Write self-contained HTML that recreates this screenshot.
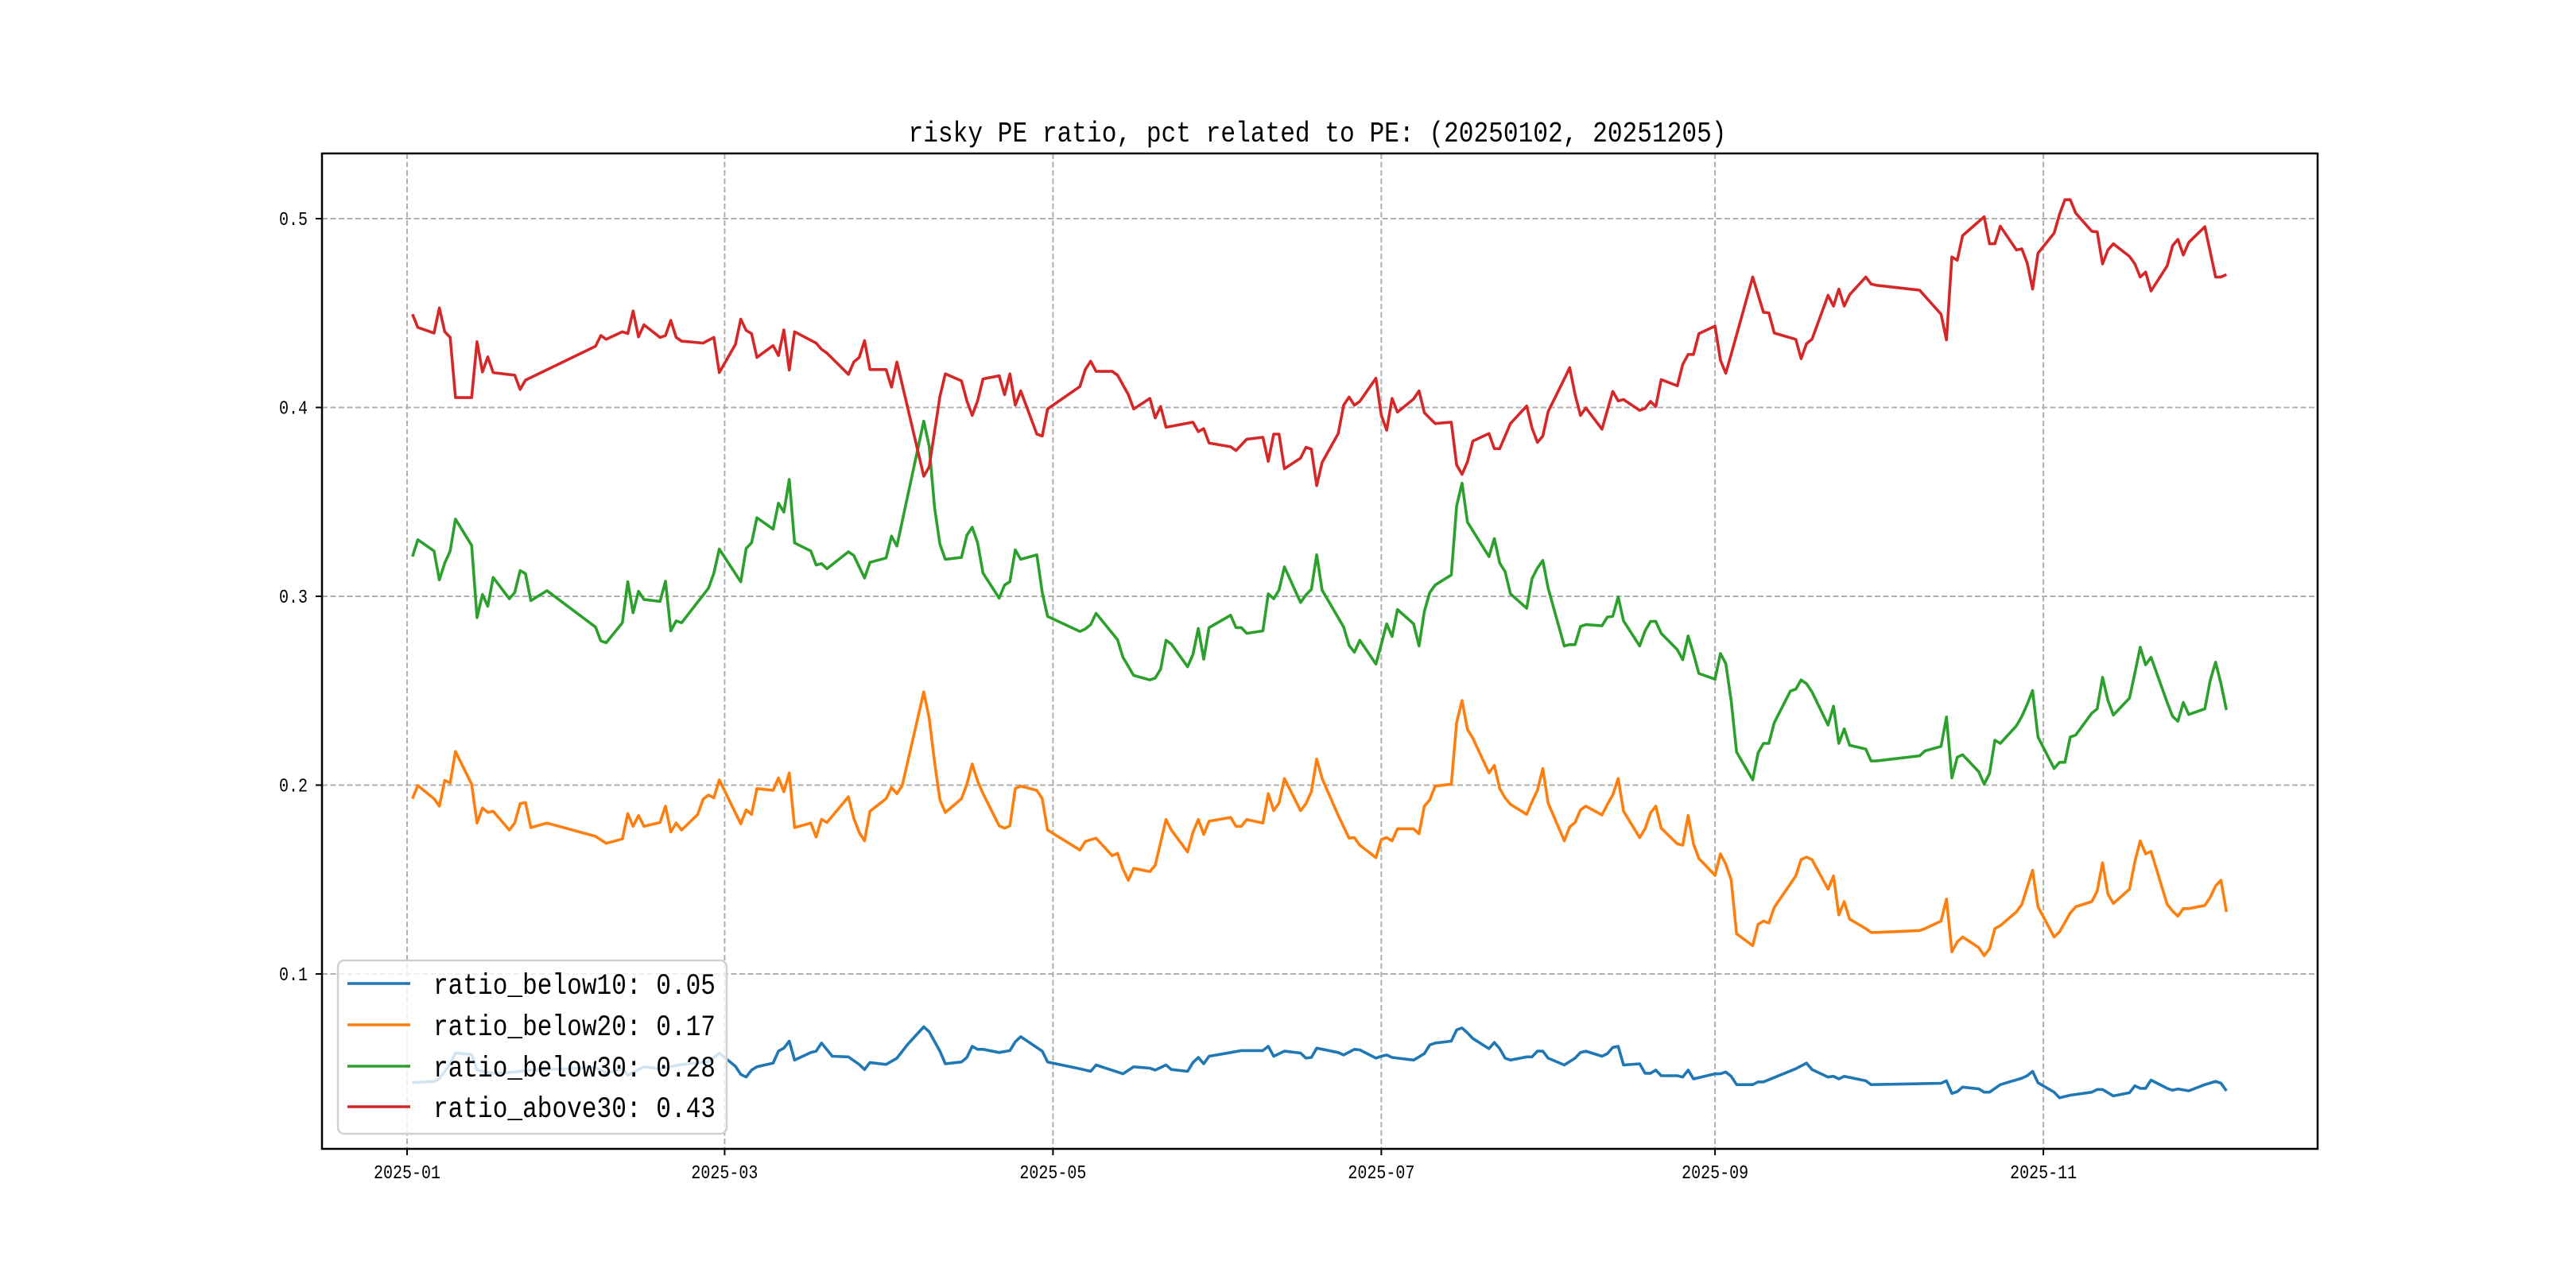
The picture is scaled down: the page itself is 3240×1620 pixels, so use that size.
<!DOCTYPE html>
<html><head><meta charset="utf-8"><style>
html,body{margin:0;padding:0;background:#fff;}
svg{display:block;}
</style></head><body>
<svg id="chart" xmlns="http://www.w3.org/2000/svg" width="3240" height="1620" viewBox="0 0 3240 1620">
<rect x="0" y="0" width="3240" height="1620" fill="#fff"/>
<text x="1657" y="178" text-anchor="middle" font-family="Liberation Mono, monospace" font-size="36" textLength="1029" lengthAdjust="spacingAndGlyphs" fill="#000">risky PE ratio, pct related to PE: (20250102, 20251205)</text>
<g id="grid"></g>
<g id="series"></g>
<rect x="405" y="193" width="2510" height="1252" fill="none" stroke="#000" stroke-width="2.5"/>
<g id="ticks"></g>
<g id="legend"></g>
</svg>
<script>
// x values are day offsets from 2025-01-01
const xTickDays = [0, 59, 120, 181, 243, 304];
const xTickLabels = ["2025-01", "2025-03", "2025-05", "2025-07", "2025-09", "2025-11"];
const yTickValues = [0.1, 0.2, 0.3, 0.4, 0.5];
const yTickLabels = ["0.1", "0.2", "0.3", "0.4", "0.5"];
const seriesNames = ["ratio_below10: 0.05", "ratio_below20: 0.17", "ratio_below30: 0.28", "ratio_above30: 0.43"];
const seriesColors = ["#1f77b4", "#ff7f0e", "#2ca02c", "#d62728"];

const blueDays = [1,5,6,8,9,12,13,16,20,23,35,37,40,41,44,47,51,56,58,61,62,63,64,65,68,69,70,71,72,75,76,77,79,82,84,85,86,89,91,93,96,97,99,100,103,104,105,106,107,110,112,113,114,118,119,125,127,128,133,135,138,139,141,142,145,146,147,148,149,153,155,159,160,161,163,166,167,168,169,173,174,176,177,180,181,182,183,187,189,190,191,194,195,196,197,198,201,202,203,204,205,208,209,210,211,212,215,217,218,219,222,223,224,225,226,229,230,231,232,233,236,237,238,239,243,244,245,246,247,250,251,252,258,260,261,264,265,266,267,271,272,285,286,287,288,289,292,293,294,296,300,301,302,303,306,307,309,313,314,315,317,320,321,322,323,324,327,328,329,331,334,336,337,338];
const blueVals = [0.0424,0.0431,0.0444,0.0524,0.0581,0.0574,0.0491,0.0474,0.0481,0.0491,0.0504,0.0474,0.0498,0.0464,0.0508,0.0498,0.0521,0.0534,0.0581,0.0511,0.0468,0.0454,0.0491,0.0508,0.0528,0.0591,0.0607,0.0644,0.0544,0.0584,0.0591,0.0634,0.0564,0.0561,0.0521,0.0494,0.0531,0.0521,0.0554,0.0627,0.0720,0.0694,0.0591,0.0524,0.0534,0.0558,0.0617,0.0601,0.0601,0.0584,0.0594,0.0641,0.0668,0.0591,0.0534,0.0498,0.0484,0.0518,0.0471,0.0508,0.0501,0.0491,0.0518,0.0494,0.0484,0.0531,0.0558,0.0524,0.0564,0.0584,0.0594,0.0594,0.0617,0.0564,0.0591,0.0581,0.0554,0.0558,0.0607,0.0584,0.0571,0.0601,0.0598,0.0554,0.0564,0.0571,0.0558,0.0544,0.0578,0.0624,0.0634,0.0644,0.0704,0.0714,0.0688,0.0658,0.0604,0.0637,0.0604,0.0554,0.0544,0.0561,0.0561,0.0591,0.0591,0.0554,0.0518,0.0554,0.0584,0.0591,0.0564,0.0578,0.0611,0.0617,0.0518,0.0524,0.0474,0.0474,0.0491,0.0461,0.0461,0.0454,0.0491,0.0444,0.0471,0.0471,0.0481,0.0458,0.0414,0.0414,0.0428,0.0428,0.0498,0.0528,0.0494,0.0454,0.0458,0.0444,0.0458,0.0434,0.0414,0.0421,0.0434,0.0367,0.0377,0.0401,0.0391,0.0374,0.0374,0.0414,0.0448,0.0461,0.0484,0.0424,0.0374,0.0344,0.0358,0.0374,0.0388,0.0388,0.0354,0.0371,0.0408,0.0394,0.0394,0.0438,0.0394,0.0384,0.0391,0.0381,0.0414,0.0431,0.0421,0.0381];

const orangeDays = [1,2,5,6,7,8,9,12,13,14,15,16,19,20,21,22,23,26,35,37,40,41,42,43,44,47,48,49,50,51,54,55,56,57,58,62,63,64,65,68,69,70,71,72,75,76,77,78,82,83,84,85,86,89,90,91,92,96,97,98,99,100,103,104,105,106,107,110,111,112,113,114,117,118,119,125,126,128,131,132,133,134,135,138,139,140,141,142,145,146,147,148,149,153,154,155,156,159,160,161,162,163,166,167,168,169,170,173,175,176,177,180,181,182,183,184,187,188,189,190,191,194,195,196,197,198,201,202,203,204,205,208,209,210,211,212,215,216,217,218,219,222,223,224,225,226,229,230,231,232,233,236,237,238,239,240,243,244,245,246,247,250,251,252,253,254,258,259,260,261,264,265,266,267,268,271,272,273,281,282,285,286,287,288,289,292,293,294,295,296,299,300,302,303,306,307,309,310,313,314,315,316,317,320,321,322,323,324,327,328,329,330,331,334,335,336,337,338];
const orangeVals = [0.1928,0.1998,0.1928,0.1889,0.2025,0.2012,0.2178,0.2005,0.1799,0.1879,0.1855,0.1862,0.1762,0.1799,0.1902,0.1908,0.1775,0.1799,0.1729,0.1692,0.1715,0.1849,0.1782,0.1839,0.1782,0.1802,0.1889,0.1752,0.1799,0.1762,0.1845,0.1925,0.1948,0.1932,0.2028,0.1795,0.1869,0.1845,0.1982,0.1972,0.2038,0.1965,0.2065,0.1775,0.1799,0.1725,0.1819,0.1802,0.1938,0.1825,0.1749,0.1705,0.1862,0.1928,0.1988,0.1955,0.1998,0.2494,0.2354,0.2121,0.1922,0.1855,0.1928,0.2005,0.2112,0.2022,0.1955,0.1785,0.1772,0.1785,0.1982,0.1995,0.1972,0.1928,0.1762,0.1656,0.1702,0.1719,0.1626,0.1639,0.1556,0.1496,0.1559,0.1542,0.1576,0.1696,0.1818,0.1762,0.1646,0.1749,0.1818,0.1739,0.1809,0.1829,0.1782,0.1782,0.1818,0.1799,0.1955,0.1865,0.1905,0.2035,0.1865,0.1902,0.1965,0.2138,0.2035,0.1839,0.1719,0.1722,0.1682,0.1616,0.1712,0.1722,0.1705,0.1769,0.1769,0.1742,0.1889,0.1922,0.1995,0.2005,0.2331,0.2448,0.2295,0.2248,0.2065,0.2105,0.1982,0.1932,0.1898,0.1845,0.1912,0.1972,0.2088,0.1905,0.1705,0.1779,0.1802,0.1869,0.1889,0.1842,0.1898,0.1948,0.2035,0.1862,0.1722,0.1769,0.1852,0.1889,0.1772,0.1689,0.1682,0.1839,0.1689,0.1612,0.1522,0.1636,0.1582,0.1499,0.1213,0.1150,0.1263,0.1280,0.1270,0.1353,0.1519,0.1606,0.1619,0.1606,0.1449,0.1519,0.1313,0.1383,0.1290,0.1240,0.1220,0.1220,0.1230,0.1240,0.1280,0.1397,0.1117,0.1170,0.1196,0.1140,0.1097,0.1133,0.1240,0.1256,0.1329,0.1369,0.1549,0.1356,0.1196,0.1223,0.1323,0.1356,0.1383,0.1439,0.1589,0.1423,0.1373,0.1449,0.1596,0.1705,0.1636,0.1649,0.1369,0.1333,0.1306,0.1346,0.1346,0.1363,0.1406,0.1466,0.1496,0.1329];

const greenDays = [1,2,5,6,7,8,9,12,13,14,15,16,19,20,21,22,23,26,35,36,37,40,41,42,43,44,47,48,49,50,51,56,57,58,62,63,64,65,68,69,70,71,72,75,76,77,78,82,83,85,86,89,90,91,96,97,98,99,100,103,104,105,106,107,110,111,112,113,114,117,118,119,125,126,127,128,132,133,135,138,139,140,141,142,145,146,147,148,149,153,154,155,156,159,160,161,162,163,166,167,168,169,170,174,175,176,177,180,181,182,183,184,187,188,189,190,191,194,195,196,197,201,202,203,204,205,208,209,210,211,212,215,216,217,218,219,222,223,224,225,226,229,230,231,232,233,236,237,238,239,240,243,244,245,246,247,250,251,252,253,254,257,258,259,260,261,264,265,266,267,268,271,272,273,281,282,285,286,287,288,289,292,293,294,295,296,299,300,301,302,303,306,307,308,309,310,313,314,315,316,317,320,321,322,323,324,327,328,329,330,331,334,335,336,337,338];
const greenVals = [0.3210,0.3300,0.3240,0.3087,0.3176,0.3240,0.3409,0.3270,0.2887,0.3010,0.2947,0.3100,0.2987,0.3020,0.3136,0.3120,0.2977,0.3030,0.2837,0.2764,0.2754,0.2860,0.3077,0.2913,0.3027,0.2983,0.2973,0.3080,0.2817,0.2870,0.2860,0.3043,0.3123,0.3250,0.3077,0.3253,0.3283,0.3416,0.3356,0.3493,0.3446,0.3619,0.3283,0.3240,0.3166,0.3173,0.3146,0.3236,0.3216,0.3097,0.3180,0.3203,0.3319,0.3266,0.3928,0.3795,0.3469,0.3276,0.3196,0.3206,0.3323,0.3366,0.3283,0.3123,0.2990,0.3060,0.3077,0.3246,0.3196,0.3220,0.3020,0.2894,0.2814,0.2827,0.2850,0.2910,0.2770,0.2677,0.2581,0.2557,0.2567,0.2614,0.2767,0.2747,0.2627,0.2691,0.2830,0.2667,0.2834,0.2900,0.2834,0.2834,0.2804,0.2817,0.3013,0.2987,0.3033,0.3156,0.2967,0.3007,0.3037,0.3220,0.3033,0.2837,0.2740,0.2704,0.2767,0.2641,0.2747,0.2854,0.2787,0.2930,0.2854,0.2737,0.2920,0.3020,0.3060,0.3113,0.3479,0.3599,0.3393,0.3210,0.3306,0.3176,0.3130,0.3013,0.2937,0.3093,0.3150,0.3190,0.3043,0.2737,0.2744,0.2744,0.2840,0.2850,0.2844,0.2890,0.2894,0.2997,0.2870,0.2737,0.2817,0.2867,0.2867,0.2804,0.2717,0.2664,0.2790,0.2697,0.2591,0.2561,0.2697,0.2644,0.2448,0.2175,0.2028,0.2171,0.2221,0.2221,0.2331,0.2498,0.2508,0.2557,0.2537,0.2494,0.2318,0.2418,0.2221,0.2298,0.2211,0.2191,0.2128,0.2128,0.2155,0.2181,0.2205,0.2361,0.2038,0.2148,0.2161,0.2071,0.2005,0.2062,0.2238,0.2221,0.2314,0.2364,0.2428,0.2501,0.2255,0.2088,0.2121,0.2121,0.2255,0.2265,0.2381,0.2404,0.2571,0.2448,0.2371,0.2461,0.2594,0.2730,0.2637,0.2677,0.2438,0.2364,0.2338,0.2438,0.2374,0.2404,0.2554,0.2651,0.2537,0.2398];

const redDays = [1,2,5,6,7,8,9,12,13,14,15,16,20,21,22,35,36,37,40,41,42,43,44,47,48,49,50,51,55,57,58,61,62,63,64,65,68,69,70,71,72,76,77,78,82,83,84,85,86,89,90,91,96,97,99,100,103,104,105,106,107,110,111,112,113,114,117,118,119,125,126,127,128,131,132,134,135,138,139,140,141,146,147,148,149,153,154,156,159,160,161,162,163,166,167,168,169,170,173,174,175,176,177,180,181,182,183,184,187,188,189,191,194,195,196,197,198,201,202,203,205,208,209,210,211,212,215,216,217,218,219,222,224,225,226,229,230,231,232,233,236,237,238,239,240,243,244,245,246,250,252,253,254,258,259,260,261,264,265,266,267,268,271,272,273,281,285,286,287,288,289,293,294,295,296,299,300,301,302,303,306,307,308,309,310,313,314,315,316,317,320,321,322,323,324,327,328,329,330,331,334,336,337,338];
const redVals = [0.4494,0.4424,0.4394,0.4527,0.4401,0.4371,0.4052,0.4052,0.4348,0.4188,0.4268,0.4185,0.4171,0.4095,0.4145,0.4324,0.4381,0.4361,0.4401,0.4391,0.4511,0.4374,0.4438,0.4371,0.4381,0.4461,0.4371,0.4351,0.4341,0.4371,0.4185,0.4334,0.4468,0.4408,0.4391,0.4265,0.4328,0.4275,0.4411,0.4198,0.4401,0.4341,0.4308,0.4288,0.4175,0.4241,0.4265,0.4354,0.4201,0.4201,0.4108,0.4241,0.3636,0.3686,0.4058,0.4178,0.4141,0.4035,0.3958,0.4035,0.4151,0.4168,0.4068,0.4178,0.4012,0.4088,0.3859,0.3849,0.3992,0.4111,0.4201,0.4245,0.4191,0.4191,0.4171,0.4068,0.3992,0.4048,0.3945,0.4005,0.3895,0.3922,0.3872,0.3888,0.3812,0.3792,0.3772,0.3832,0.3842,0.3715,0.3859,0.3859,0.3676,0.3732,0.3789,0.3779,0.3586,0.3709,0.3862,0.4012,0.4055,0.4012,0.4032,0.4155,0.3958,0.3879,0.4048,0.3975,0.4045,0.4088,0.3972,0.3915,0.3922,0.3696,0.3646,0.3712,0.3822,0.3862,0.3782,0.3782,0.3915,0.4008,0.3892,0.3815,0.3849,0.3978,0.4151,0.4211,0.4068,0.3958,0.3998,0.3885,0.4085,0.4035,0.4042,0.3985,0.3995,0.4032,0.4005,0.4148,0.4115,0.4228,0.4281,0.4281,0.4391,0.4431,0.4251,0.4181,0.4281,0.4691,0.4504,0.4501,0.4394,0.4361,0.4258,0.4338,0.4361,0.4594,0.4537,0.4627,0.4537,0.4597,0.4691,0.4654,0.4647,0.4621,0.4494,0.4358,0.4797,0.4780,0.4910,0.5010,0.4867,0.4867,0.4960,0.4834,0.4840,0.4764,0.4627,0.4817,0.4923,0.5023,0.5100,0.5100,0.5030,0.4933,0.4930,0.4760,0.4834,0.4867,0.4800,0.4760,0.4691,0.4717,0.4617,0.4750,0.4857,0.4890,0.4807,0.4874,0.4957,0.4691,0.4691,0.4704];

const NS = "http://www.w3.org/2000/svg";
const plot = {left: 405, right: 2915, top: 193, bottom: 1445};
function xScale(d) { return 512 + d * 6.77; }
function yScale(v) { return 275 + (0.5 - v) * 2375; }
function mk(tag, attrs, parent) {
  const e = document.createElementNS(NS, tag);
  for (const k in attrs) e.setAttribute(k, attrs[k]);
  parent.appendChild(e);
  return e;
}
const grid = document.getElementById('grid');
const ticks = document.getElementById('ticks');
xTickDays.forEach((d, i) => {
  const x = xScale(d);
  const g = mk('line', {x1: x, x2: x, y1: plot.top, y2: plot.bottom, stroke: '#b0b0b0', 'stroke-width': 2, 'stroke-dasharray': '7,3.5'}, grid);
  
  
  const t = mk('line', {x1: x, x2: x, y1: plot.bottom, y2: plot.bottom + 8, stroke: '#000', 'stroke-width': 2}, ticks);
  
  
  const l = mk('text', {x: x, y: 1482, 'text-anchor': 'middle', 'font-family': 'Liberation Mono, monospace', 'font-size': 24, textLength: 84, lengthAdjust: 'spacingAndGlyphs', fill: '#000'}, ticks);
  l.textContent = xTickLabels[i];
  
  
});
yTickValues.forEach((v, i) => {
  const y = yScale(v);
  const g = mk('line', {x1: plot.left, x2: plot.right, y1: y, y2: y, stroke: '#b0b0b0', 'stroke-width': 2, 'stroke-dasharray': '7,3.5'}, grid);
  
  
  const t = mk('line', {x1: plot.left - 8, x2: plot.left, y1: y, y2: y, stroke: '#000', 'stroke-width': 2}, ticks);
  
  
  const l = mk('text', {x: 387, y: y + 8, 'text-anchor': 'end', 'font-family': 'Liberation Mono, monospace', 'font-size': 24, textLength: 36, lengthAdjust: 'spacingAndGlyphs', fill: '#000'}, ticks);
  l.textContent = yTickLabels[i];
  
  
});
const seriesG = document.getElementById('series');
const allDays = [blueDays, orangeDays, greenDays, redDays];
const allVals = [blueVals, orangeVals, greenVals, redVals];
const lineNames = ['line-ratio-below10', 'line-ratio-below20', 'line-ratio-below30', 'line-ratio-above30'];
allDays.forEach((days, s) => {
  const vals = allVals[s];
  const pts = days.map((d, i) => xScale(d).toFixed(1) + ',' + yScale(vals[i]).toFixed(1)).join(' ');
  const p = mk('polyline', {points: pts, fill: 'none', stroke: seriesColors[s], 'stroke-width': 3.6, 'stroke-linejoin': 'round'}, seriesG);
  
  
});
const legend = document.getElementById('legend');
const box = mk('rect', {x: 425, y: 1208, width: 489, height: 218, rx: 8, fill: 'rgba(255,255,255,0.8)', stroke: '#d0d0d0', 'stroke-width': 2.5}, legend);


const rowY = [1237, 1289, 1341, 1392];
seriesNames.forEach((n, i) => {
  const ln = mk('line', {x1: 437, x2: 516, y1: rowY[i], y2: rowY[i], stroke: seriesColors[i], 'stroke-width': 3.6}, legend);
  
  
  const t = mk('text', {x: 545, y: rowY[i] + 13, 'font-family': 'Liberation Mono, monospace', 'font-size': 37, textLength: 355, lengthAdjust: 'spacingAndGlyphs', fill: '#000'}, legend);
  t.textContent = n;
  
  
});
</script>
</body></html>
